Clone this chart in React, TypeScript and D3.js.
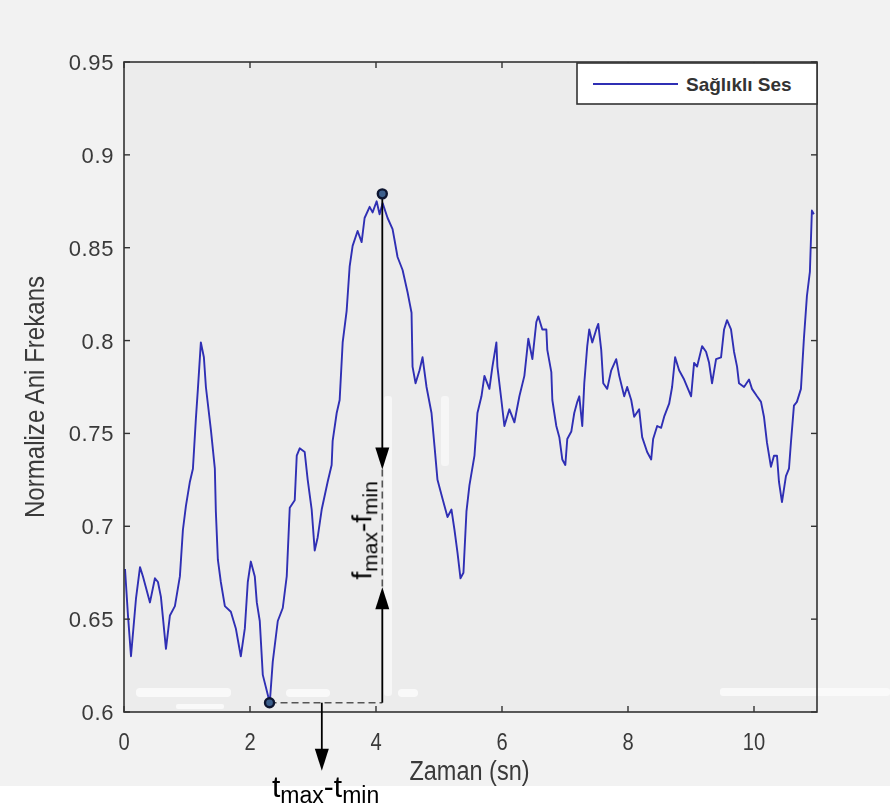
import React from "react";
import * as d3 from "d3";

// Normalised instantaneous frequency of a healthy voice over time
const times = [
  0.016, 0.063, 0.111, 0.19, 0.254, 0.301, 0.412, 0.491, 0.539, 0.586, 0.666, 0.729, 0.808, 0.887, 0.935, 0.983,
  1.046, 1.094, 1.141, 1.173, 1.22, 1.268, 1.3, 1.379, 1.442, 1.458, 1.49, 1.537, 1.601, 1.696, 1.775, 1.854,
  1.918, 1.965, 2.013, 2.076, 2.108, 2.155, 2.203, 2.314, 2.361, 2.441, 2.52, 2.583, 2.631, 2.71, 2.742, 2.789,
  2.868, 2.916, 2.979, 3.027, 3.074, 3.138, 3.233, 3.296, 3.312, 3.376, 3.423, 3.471, 3.534, 3.582, 3.629, 3.708,
  3.772, 3.819, 3.899, 3.946, 4.01, 4.057, 4.105, 4.184, 4.263, 4.295, 4.342, 4.422, 4.501, 4.564, 4.58, 4.628,
  4.691, 4.739, 4.802, 4.881, 4.929, 4.976, 5.055, 5.135, 5.198, 5.246, 5.293, 5.341, 5.388, 5.436, 5.483, 5.563,
  5.61, 5.674, 5.721, 5.8, 5.848, 5.911, 5.927, 5.99, 6.038, 6.117, 6.197, 6.276, 6.355, 6.418, 6.482, 6.545,
  6.577, 6.64, 6.704, 6.719, 6.783, 6.799, 6.862, 6.91, 6.957, 7.005, 7.036, 7.1, 7.147, 7.195, 7.227, 7.274,
  7.306, 7.353, 7.385, 7.433, 7.496, 7.528, 7.575, 7.607, 7.67, 7.734, 7.813, 7.861, 7.94, 7.987, 8.051, 8.098,
  8.177, 8.225, 8.304, 8.368, 8.399, 8.463, 8.526, 8.574, 8.653, 8.7, 8.748, 8.811, 8.891, 9.002, 9.049, 9.097,
  9.176, 9.239, 9.287, 9.334, 9.398, 9.477, 9.525, 9.572, 9.635, 9.683, 9.731, 9.762, 9.842, 9.921, 9.968, 10.048,
  10.111, 10.158, 10.206, 10.269, 10.317, 10.365, 10.396, 10.444, 10.507, 10.555, 10.586, 10.634, 10.681, 10.745,
  10.792, 10.84, 10.887, 10.919, 10.95,
];

const freqs = [
  0.677, 0.652, 0.63, 0.661, 0.678, 0.673, 0.659, 0.672, 0.67, 0.662, 0.634, 0.652, 0.657, 0.673, 0.698, 0.711,
  0.724, 0.731, 0.758, 0.774, 0.799, 0.791, 0.775, 0.752, 0.731, 0.708, 0.682, 0.67, 0.657, 0.654, 0.645, 0.63,
  0.645, 0.67, 0.681, 0.673, 0.659, 0.649, 0.62, 0.605, 0.627, 0.649, 0.656, 0.673, 0.71, 0.714, 0.738, 0.742,
  0.74, 0.725, 0.709, 0.687, 0.694, 0.709, 0.724, 0.733, 0.746, 0.761, 0.768, 0.799, 0.816, 0.84, 0.851, 0.859,
  0.853, 0.866, 0.872, 0.869, 0.875, 0.868, 0.874, 0.866, 0.86, 0.854, 0.845, 0.838, 0.826, 0.815, 0.786, 0.777,
  0.784, 0.791, 0.775, 0.761, 0.743, 0.725, 0.715, 0.705, 0.709, 0.698, 0.686, 0.672, 0.675, 0.708, 0.722, 0.738,
  0.761, 0.77, 0.781, 0.774, 0.786, 0.799, 0.786, 0.768, 0.754, 0.763, 0.756, 0.77, 0.781, 0.801, 0.79, 0.81,
  0.813, 0.806, 0.806, 0.795, 0.783, 0.768, 0.754, 0.748, 0.736, 0.733, 0.747, 0.751, 0.761, 0.767, 0.77, 0.754,
  0.777, 0.797, 0.806, 0.799, 0.806, 0.809, 0.795, 0.777, 0.774, 0.784, 0.79, 0.781, 0.77, 0.775, 0.768, 0.759,
  0.763, 0.748, 0.74, 0.736, 0.747, 0.754, 0.753, 0.759, 0.766, 0.775, 0.791, 0.784, 0.779, 0.77, 0.788, 0.786,
  0.797, 0.794, 0.788, 0.777, 0.79, 0.791, 0.806, 0.811, 0.806, 0.794, 0.786, 0.777, 0.775, 0.779, 0.774, 0.77,
  0.767, 0.759, 0.745, 0.732, 0.738, 0.738, 0.724, 0.713, 0.727, 0.731, 0.745, 0.765, 0.767, 0.774,
  0.801, 0.824, 0.837, 0.87, 0.868,
];

const xTicks = [0, 2, 4, 6, 8, 10];
const yTicks = [0.6, 0.65, 0.7, 0.75, 0.8, 0.85, 0.9, 0.95];

// Extremes used for the annotation
const minPoint = { t: 2.31, f: 0.605 };
const maxPoint = { t: 4.1, f: 0.879 };
// Where the two arrowheads of the frequency span sit
const fArrowDownTip = 0.7306;
const fArrowUpTip = 0.6672;
// Time at which the time-span arrow drops below the axis
const tArrowAt = 3.14;

const seriesName = "Sağlıklı Ses";
const xLabel = "Zaman (sn)";
const yLabel = "Normalize Ani Frekans";

const W = 890;
const H = 809;
const M = { left: 124, right: 817, top: 62, bottom: 712 };

const LINE = "#2f2fb4";
const AXIS = "#333";
const TEXT = "#3a3a3a";
const SANS = "'Liberation Sans', Arial, Helvetica, sans-serif";

export default function App() {
  const x = d3.scaleLinear().domain([0, 11]).range([M.left, M.right]);
  const y = d3.scaleLinear().domain([0.6, 0.95]).range([M.bottom, M.top]);

  const pts = times.map((t, i) => [t, freqs[i]] as [number, number]);
  const linePath = d3
    .line<[number, number]>()
    .x((d) => x(d[0]))
    .y((d) => y(d[1]))
    .curve(d3.curveLinear)(pts) as string;

  const vx = x(maxPoint.t);
  const yMax = y(maxPoint.f);
  const yMin = y(minPoint.f);
  const yDown = y(fArrowDownTip);
  const yUp = y(fArrowUpTip);
  const head = 22;
  const hw = 7;
  const tx = x(tArrowAt);
  const tTip = yMin + 68;

  const tick = 6;

  return (
    <svg
      width={W}
      height={H}
      style={{ position: "absolute", left: 0, top: 0, display: "block" }}
      fontFamily={SANS}
    >
      <rect x={0} y={0} width={W} height={H} fill="#f2f2f2" />
      <rect x={M.left} y={M.top} width={M.right - M.left} height={M.bottom - M.top} fill="#ececec" />

      {/* faded light streaks */}
      <g fill="#fbfbfb" opacity={0.9}>
        <rect x={136} y={688} width={95} height={9} rx={4} />
        <rect x={176} y={704} width={48} height={5} rx={2} />
        <rect x={286} y={689} width={44} height={8} rx={4} />
        <rect x={398} y={689} width={20} height={8} rx={4} />
        <rect x={720} y={688} width={170} height={8} rx={3} />
        <rect x={384} y={396} width={8} height={300} rx={3} opacity={0.8} />
        <rect x={441} y={396} width={8} height={70} rx={3} opacity={0.7} />
      </g>
      <rect x={0} y={786} width={W} height={H - 786} fill="#ffffff" />

      {/* series */}
      <path d={linePath} fill="none" stroke={LINE} strokeWidth={1.9} strokeLinejoin="round" />

      {/* frame */}
      <rect
        x={M.left}
        y={M.top}
        width={M.right - M.left}
        height={M.bottom - M.top}
        fill="none"
        stroke={AXIS}
        strokeWidth={1.6}
      />

      {/* ticks */}
      <g stroke={AXIS} strokeWidth={1.4}>
        {xTicks.map((t) => (
          <g key={"xt" + t}>
            <line x1={x(t)} x2={x(t)} y1={M.bottom} y2={M.bottom - tick} />
            <line x1={x(t)} x2={x(t)} y1={M.top} y2={M.top + tick} />
          </g>
        ))}
        {yTicks.map((v) => (
          <g key={"yt" + v}>
            <line x1={M.left} x2={M.left + tick} y1={y(v)} y2={y(v)} />
            <line x1={M.right} x2={M.right - tick} y1={y(v)} y2={y(v)} />
          </g>
        ))}
      </g>

      {/* tick labels */}
      <g fill={TEXT} fontSize={24}>
        {xTicks.map((t) => (
          <text
            key={"xl" + t}
            transform={`translate(${x(t)},${M.bottom + 38}) scale(0.84,1)`}
            textAnchor="middle"
          >
            {t}
          </text>
        ))}
      </g>
      <g fill={TEXT} fontSize={22}>
        {yTicks.map((v) => (
          <text key={"yl" + v} x={M.left - 10} y={y(v) + 8} textAnchor="end" letterSpacing={0.6}>
            {d3.format("")(+v.toFixed(2))}
          </text>
        ))}
      </g>

      {/* axis titles */}
      <text
        transform={`translate(${(M.left + M.right) / 2 - 1},${M.bottom + 68}) scale(0.84,1)`}
        textAnchor="middle"
        fontSize={28}
        fill={TEXT}
      >
        {xLabel}
      </text>
      <text
        transform={`translate(44,${(M.top + M.bottom) / 2 + 10}) rotate(-90) scale(0.86,1)`}
        textAnchor="middle"
        fontSize={28}
        fill={TEXT}
      >
        {yLabel}
      </text>

      {/* legend */}
      <rect x={577} y={M.top + 1} width={M.right - 577} height={41} fill="#ffffff" stroke={AXIS} strokeWidth={1.6} />
      <line x1={593} x2={678} y1={84} y2={84} stroke={LINE} strokeWidth={1.9} />
      <text x={686} y={91} fontSize={19} fontWeight="bold" fill="#333">
        {seriesName}
      </text>

      {/* span annotation: dashed guides */}
      <g stroke="#555" strokeWidth={1.6} strokeDasharray="7,4" fill="none">
        <line x1={x(minPoint.t)} x2={vx} y1={yMin} y2={yMin} />
        <line x1={vx} x2={vx} y1={yDown} y2={yUp} />
      </g>

      {/* frequency span arrows */}
      <g stroke="#000" strokeWidth={1.8}>
        <line x1={vx} x2={vx} y1={yMax} y2={yDown - head + 2} />
        <line x1={vx} x2={vx} y1={yMin} y2={yUp + head - 2} />
        <line x1={tx} x2={tx} y1={yMin} y2={tTip - head + 2} />
      </g>
      <g fill="#000">
        <path d={`M${vx},${yDown} L${vx - hw},${yDown - head} L${vx + hw},${yDown - head} Z`} />
        <path d={`M${vx},${yUp} L${vx - hw},${yUp + head} L${vx + hw},${yUp + head} Z`} />
        <path d={`M${tx},${tTip} L${tx - hw},${tTip - head} L${tx + hw},${tTip - head} Z`} />
      </g>

      {/* extreme points */}
      <g fill="#3c5f8c" stroke="#0d1530" strokeWidth={2.4}>
        <circle cx={x(minPoint.t)} cy={yMin} r={4.5} />
        <circle cx={x(maxPoint.t)} cy={yMax} r={4.5} />
      </g>

      {/* span labels */}
      <text
        transform={`translate(${vx - 11},${(yDown + yUp) / 2 + 2}) rotate(-90)`}
        textAnchor="middle"
        fontSize={28}
        fill="#000"
      >
        <tspan>f</tspan>
        <tspan fontSize={21} dy={6}>max</tspan>
        <tspan dy={-6}>-f</tspan>
        <tspan fontSize={21} dy={6}>min</tspan>
      </text>
      <text x={272} y={797} fontSize={30} fill="#000">
        <tspan>t</tspan>
        <tspan fontSize={23} dy={6}>max</tspan>
        <tspan dy={-6}>-t</tspan>
        <tspan fontSize={23} dy={6}>min</tspan>
      </text>
    </svg>
  );
}
